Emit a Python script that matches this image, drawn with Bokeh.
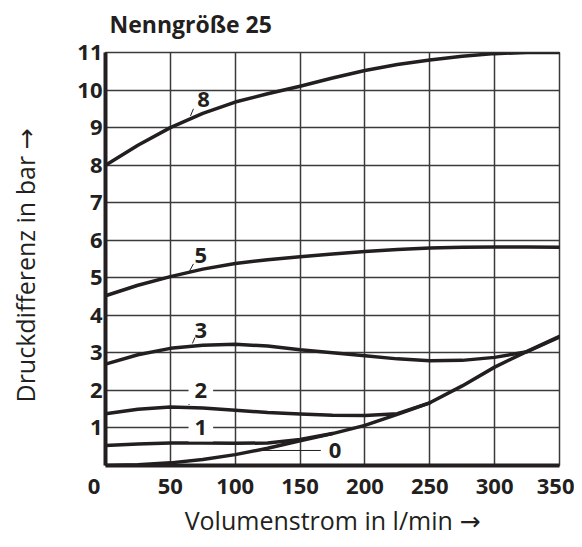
from bokeh.plotting import figure
from bokeh.models import Label, FixedTicker, Range1d, Title
from bokeh.embed import file_html
from bokeh.resources import INLINE

# ---- data ----
flow = [0, 25, 50, 75, 100, 125, 150, 175, 200, 225, 250, 275, 300, 325, 350]
curve_8 = [8.0, 8.53, 9.0, 9.38, 9.68, 9.9, 10.1, 10.32, 10.52, 10.68, 10.8, 10.9, 10.97, 11.0, 11.0]
curve_5 = [4.52, 4.8, 5.03, 5.23, 5.38, 5.48, 5.56, 5.63, 5.7, 5.75, 5.79, 5.81, 5.82, 5.82, 5.81]
curve_3 = [2.7, 2.95, 3.12, 3.2, 3.23, 3.18, 3.08, 3.0, 2.92, 2.84, 2.79, 2.8, 2.88, 3.03, 3.42]
curve_0 = [0.0, 0.02, 0.07, 0.16, 0.29, 0.46, 0.66, 0.85, 1.07, 1.36, 1.67, 2.12, 2.62, 3.04, 3.44]
flow_2 = [0, 25, 50, 75, 100, 125, 150, 175, 200, 225, 250]
curve_2 = [1.38, 1.5, 1.56, 1.53, 1.47, 1.41, 1.37, 1.34, 1.33, 1.38, 1.67]
flow_1 = [0, 25, 50, 75, 100, 125, 150, 175]
curve_1 = [0.53, 0.57, 0.6, 0.6, 0.59, 0.6, 0.69, 0.85]

x_ticks = [0, 50, 100, 150, 200, 250, 300, 350]
y_ticks = [1, 2, 3, 4, 5, 6, 7, 8, 9, 10, 11]

# curve labels: text, x, y
curve_label_text = ["8", "5", "3", "2", "1", "0"]
curve_label_x = [75.5, 73.5, 73.5, 73.5, 73.5, 177]
curve_label_y = [9.75, 5.6, 3.6, 2.0, 1.0, 0.4]
# leader lines: x0, y0, x1, y1
leader_x0 = [65.5, 64.8, 67.0, 64.0, 66.0, 119]
leader_y0 = [9.31, 5.18, 3.25, 1.61, 0.66, 0.4]
leader_x1 = [67.8, 67.8, 69.0, 67.8, 68.6, 166]
leader_y1 = [9.5, 5.37, 3.41, 1.75, 0.82, 0.4]

INK = "#231f20"
GRID = "#3a3a3a"
FONT = "Open Sans"
LABEL_FONT = "'Open Sans', 'DejaVu Sans'"
NBSP = "\u00a0"

p = figure(
    width=574, height=539,
    min_border_left=105, min_border_right=15, min_border_top=52, min_border_bottom=71,
    x_range=Range1d(0, 350), y_range=Range1d(0, 11),
    output_backend="svg", toolbar_location=None,
)

p.title.text = "Nenngröße 25"
p.title.text_font = FONT
p.title.text_font_size = "23px"
p.title.text_font_style = "bold"
p.title.text_color = INK
p.title.align = "left"
p.title.offset = 4
p.title.standoff = 10
# small empty spacer between the title and the plot area
p.add_layout(Title(text=NBSP, text_font_size="5px", standoff=0), "above")

p.outline_line_color = GRID
p.outline_line_width = 1.5

for g in (p.xgrid, p.ygrid):
    g.grid_line_color = GRID
    g.grid_line_width = 1.5
p.xgrid.ticker = FixedTicker(ticks=x_ticks)
p.ygrid.ticker = FixedTicker(ticks=y_ticks)

for ax in (p.xaxis[0], p.yaxis[0]):
    ax.axis_line_color = INK
    ax.axis_line_width = 4
    ax.major_tick_line_color = None
    ax.minor_tick_line_color = None
    ax.major_tick_out = 0
    ax.major_tick_in = 0
    ax.major_label_text_font = FONT
    ax.major_label_text_font_size = "22px"
    ax.major_label_text_font_style = "bold"
    ax.major_label_text_color = INK
    ax.axis_label_text_font = LABEL_FONT
    ax.axis_label_text_font_size = "25px"
    ax.axis_label_text_font_style = "normal"
    ax.axis_label_text_color = INK

p.xaxis.ticker = FixedTicker(ticks=x_ticks)
p.yaxis.ticker = FixedTicker(ticks=y_ticks)
# the origin "0" sits left of the corner in the reference
p.xaxis.major_label_overrides = {0: "0" + NBSP * 4}
p.xaxis.major_label_standoff = 4
p.yaxis.major_label_standoff = 3
p.xaxis.axis_label = "Volumenstrom in l/min →"
p.yaxis.axis_label = "Druckdifferenz in bar →" + NBSP * 2
p.xaxis.axis_label_standoff = 0
p.yaxis.axis_label_standoff = 32

for xs, ys in ((flow, curve_8), (flow, curve_5), (flow, curve_3), (flow, curve_0),
               (flow_2, curve_2), (flow_1, curve_1)):
    p.line(xs, ys, line_color=INK, line_width=3.5, line_join="round", line_cap="round")

p.segment(leader_x0, leader_y0, leader_x1, leader_y1, line_color=INK, line_width=1)

for t, lx, ly in zip(curve_label_text, curve_label_x, curve_label_y):
    bg = "white" if t in ("2", "1") else None
    p.add_layout(Label(x=lx, y=ly, text=t, text_align="center", text_baseline="middle",
                       text_font=FONT, text_font_size="22px", text_font_style="bold",
                       text_color=INK, background_fill_color=bg, padding=6))

open("out.html", "w").write(file_html(p, INLINE))
